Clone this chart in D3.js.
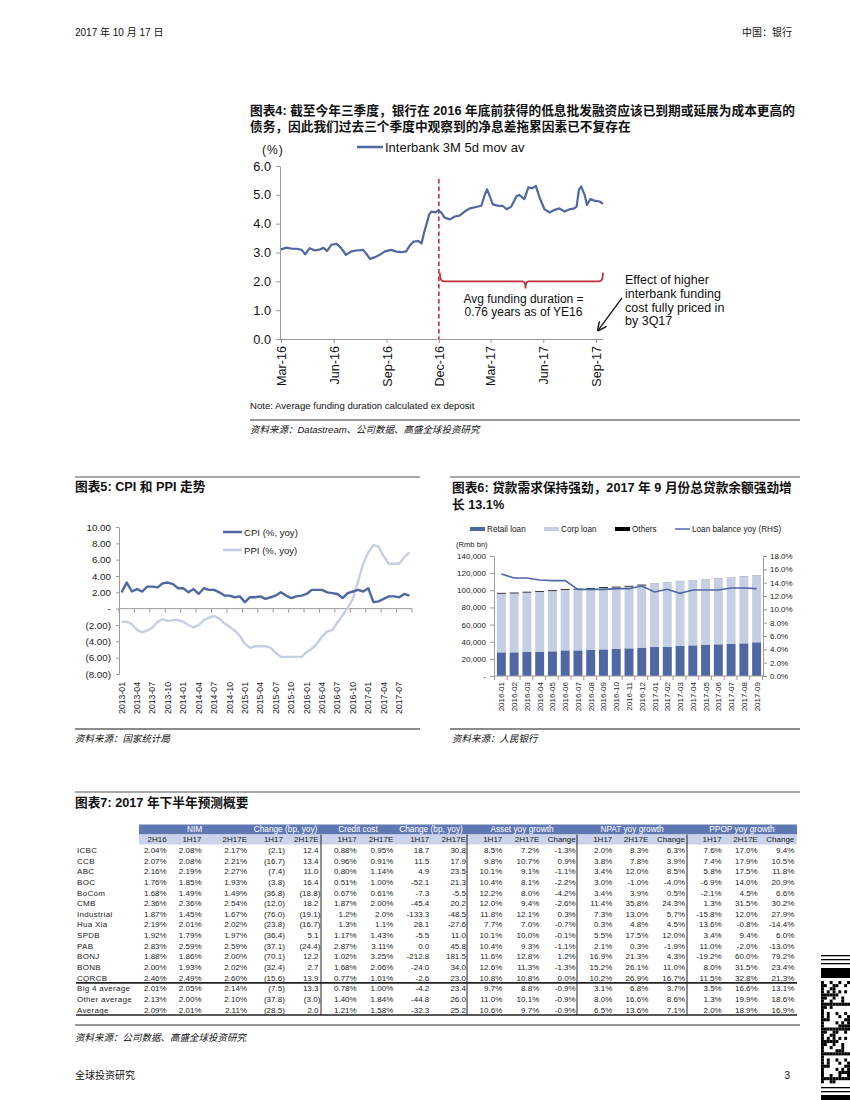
<!DOCTYPE html>
<html>
<head>
<meta charset="utf-8">
<script src="https://cdn.jsdelivr.net/npm/d3@7"></script>
<style>
    body { margin: 0; background: #fff; }
    svg text { font-family: "Liberation Sans", Arial, "Noto Sans CJK SC", sans-serif; }
</style>
</head>
<body>
<svg id="page" width="850" height="1100"></svg>
<script>
"use strict";

// ---- chart 4: interbank 3M rate (5d moving average) ----
var ibDates = ["2016-03-01", "2016-03-11", "2016-03-20", "2016-03-28", "2016-04-06", "2016-04-12", "2016-04-20", "2016-04-29",
    "2016-05-08", "2016-05-14", "2016-05-20", "2016-05-28", "2016-06-06", "2016-06-14", "2016-06-22", "2016-07-02",
    "2016-07-10", "2016-07-22", "2016-07-29", "2016-08-03", "2016-08-12", "2016-08-20", "2016-08-29", "2016-09-09",
    "2016-09-18", "2016-09-27", "2016-10-05", "2016-10-11", "2016-10-18", "2016-10-26", "2016-11-01", "2016-11-05",
    "2016-11-10", "2016-11-14", "2016-11-18", "2016-11-25", "2016-11-30", "2016-12-05", "2016-12-11", "2016-12-20",
    "2016-12-29", "2017-01-06", "2017-01-15", "2017-01-24", "2017-02-02", "2017-02-13", "2017-02-19", "2017-02-23",
    "2017-02-28", "2017-03-05", "2017-03-14", "2017-03-22", "2017-03-29", "2017-04-06", "2017-04-15", "2017-04-20",
    "2017-04-29", "2017-05-06", "2017-05-13", "2017-05-19", "2017-05-26", "2017-06-03", "2017-06-12", "2017-06-21",
    "2017-06-29", "2017-07-08", "2017-07-17", "2017-07-25", "2017-07-29", "2017-08-02", "2017-08-06", "2017-08-12",
    "2017-08-16", "2017-08-22", "2017-08-29", "2017-09-07", "2017-09-13"];
var ibValues = [3.11, 3.17, 3.13, 3.13, 3.09, 2.94, 3.15, 3.07, 3.11, 3.16, 3.05, 3.27, 3.30, 3.15, 2.92, 3.04,
    3.07, 3.09, 2.92, 2.78, 2.84, 2.92, 3.04, 3.09, 3.03, 3.01, 3.04, 3.23, 3.38, 3.40, 3.32, 3.67,
    4.02, 4.31, 4.42, 4.39, 4.46, 4.39, 4.21, 4.15, 4.25, 4.28, 4.42, 4.53, 4.57, 4.62, 5.00, 5.19,
    4.94, 4.67, 4.62, 4.62, 4.50, 4.59, 4.94, 5.00, 4.85, 5.26, 5.23, 5.31, 4.88, 4.50, 4.39, 4.48,
    4.53, 4.42, 4.50, 4.53, 4.59, 5.17, 5.29, 5.00, 4.65, 4.85, 4.80, 4.77, 4.69];
var ibTicks = ["2016-03-01", "2016-06-01", "2016-09-01", "2016-12-01", "2017-03-01", "2017-06-01", "2017-09-01"];
var ibYTicks = [0, 1, 2, 3, 4, 5, 6];
var ibNoteLines = ["Effect of higher", "interbank funding", "cost fully priced in", "by 3Q17"];

// ---- chart 5: CPI / PPI yoy, 2013-01 .. 2017-09 ----
var cpiValues = [2.0, 3.2, 2.1, 2.4, 2.1, 2.7, 2.7, 2.6, 3.1, 3.2, 3.0, 2.5,
    2.5, 2.0, 2.4, 1.8, 2.5, 2.3, 2.3, 2.0, 1.6, 1.6, 1.4, 1.5,
    0.8, 1.4, 1.4, 1.5, 1.2, 1.4, 1.6, 2.0, 1.6, 1.3, 1.5, 1.6,
    1.8, 2.3, 2.3, 2.3, 2.0, 1.9, 1.8, 1.3, 1.9, 2.1, 2.3, 2.1,
    2.5, 0.8, 0.9, 1.2, 1.5, 1.5, 1.4, 1.8, 1.6];
var ppiValues = [-1.6, -1.6, -1.9, -2.6, -2.9, -2.7, -2.3, -1.6, -1.3, -1.5, -1.4, -1.4,
    -1.6, -2.0, -2.3, -2.0, -1.4, -1.1, -0.9, -1.2, -1.8, -2.2, -2.7, -3.3,
    -4.3, -4.8, -4.6, -4.6, -4.6, -4.8, -5.4, -5.9, -5.9, -5.9, -5.9, -5.9,
    -5.3, -4.9, -4.3, -3.4, -2.8, -2.6, -1.7, -0.8, 0.1, 1.2, 3.3, 5.5,
    6.9, 7.8, 7.6, 6.4, 5.5, 5.5, 5.5, 6.3, 6.9];
var cpiMonths = d3.timeMonths(new Date(2013, 0, 1), new Date(2017, 9, 1)).map(d3.timeFormat("%Y-%m"));
var cpiYTicks = [10, 8, 6, 4, 2, 0, -2, -4, -6, -8];
var cpiSeriesNames = ["CPI (%, yoy)", "PPI (%, yoy)"];

// ---- chart 6: loans (Rmb bn) and loan balance yoy ----
var loanMonths = ["2016-01", "2016-02", "2016-03", "2016-04", "2016-05", "2016-06", "2016-07", "2016-08", "2016-09",
    "2016-10", "2016-11", "2016-12", "2017-01", "2017-02", "2017-03", "2017-04", "2017-05", "2017-06", "2017-07",
    "2017-08", "2017-09"];
var retailLoan = [27600, 27600, 28000, 28400, 28800, 29900, 29900, 30700, 31100, 31500, 32300, 33100,
    33800, 34200, 35000, 35800, 36200, 37000, 37700, 38100, 39300];
var corpLoan = [68500, 68800, 69400, 69700, 70300, 70500, 71000, 71000, 71600, 71800, 72000, 72600,
    74500, 75200, 75800, 75900, 76700, 77200, 77400, 78400, 78400];
var otherLoan = [900, 900, 900, 900, 900, 900, 900, 900, 900, 900, 900, 900,
    100, 100, 100, 100, 100, 100, 100, 100, 100];
var loanYoy = [15.3, 14.7, 14.7, 14.4, 14.3, 14.3, 13.0, 13.0, 13.0, 13.1, 13.1, 13.5,
    12.6, 13.0, 12.4, 12.9, 12.9, 12.9, 13.2, 13.2, 13.1];
var loanLeftTicks = [0, 20000, 40000, 60000, 80000, 100000, 120000, 140000];
var loanRightTicks = [0, 2, 4, 6, 8, 10, 12, 14, 16, 18];
var loanLegend = ["Retail loan", "Corp loan", "Others", "Loan balance yoy (RHS)"];

// ---- chart 7: forecast table ----
var tblGroups = ["NIM", "Change (bp, yoy)", "Credit cost", "Change (bp, yoy)", "Asset yoy growth", "NPAT yoy growth", "PPOP yoy growth"];
var tblSub = ["2H16", "1H17", "2H17E", "1H17", "2H17E", "1H17", "2H17E", "1H17", "2H17E",
    "1H17", "2H17E", "Change", "1H17", "2H17E", "Change", "1H17", "2H17E", "Change"];
var tblBanks = ["ICBC", "CCB", "ABC", "BOC", "BoCom", "CMB", "Industrial", "Hua Xia", "SPDB", "PAB", "BONJ", "BONB",
    "CQRCB", "Big 4 average", "Other average", "Average"];
var tblRows = [
    ["2.04%", "2.08%", "2.17%", "(2.1)", "12.4", "0.88%", "0.95%", "18.7", "30.8", "8.5%", "7.2%", "-1.3%", "2.0%", "8.3%", "6.3%", "7.6%", "17.0%", "9.4%"],
    ["2.07%", "2.08%", "2.21%", "(16.7)", "13.4", "0.96%", "0.91%", "11.5", "17.9", "9.8%", "10.7%", "0.9%", "3.8%", "7.8%", "3.9%", "7.4%", "17.9%", "10.5%"],
    ["2.16%", "2.19%", "2.27%", "(7.4)", "11.0", "0.80%", "1.14%", "4.9", "23.5", "10.1%", "9.1%", "-1.1%", "3.4%", "12.0%", "8.5%", "5.8%", "17.5%", "11.8%"],
    ["1.76%", "1.85%", "1.93%", "(3.8)", "16.4", "0.51%", "1.00%", "-52.1", "21.3", "10.4%", "8.1%", "-2.2%", "3.0%", "-1.0%", "-4.0%", "-6.9%", "14.0%", "20.9%"],
    ["1.68%", "1.49%", "1.49%", "(36.8)", "(18.8)", "0.67%", "0.61%", "-7.3", "-5.5", "12.2%", "8.0%", "-4.2%", "3.4%", "3.9%", "0.5%", "-2.1%", "4.5%", "6.6%"],
    ["2.36%", "2.36%", "2.54%", "(12.0)", "18.2", "1.87%", "2.00%", "-45.4", "20.2", "12.0%", "9.4%", "-2.6%", "11.4%", "35.8%", "24.3%", "1.3%", "31.5%", "30.2%"],
    ["1.87%", "1.45%", "1.67%", "(76.0)", "(19.1)", "1.2%", "2.0%", "-133.3", "-48.5", "11.8%", "12.1%", "0.3%", "7.3%", "13.0%", "5.7%", "-15.8%", "12.0%", "27.9%"],
    ["2.19%", "2.01%", "2.02%", "(23.8)", "(16.7)", "1.3%", "1.1%", "28.1", "-27.6", "7.7%", "7.0%", "-0.7%", "0.3%", "4.8%", "4.5%", "13.6%", "-0.8%", "-14.4%"],
    ["1.92%", "1.79%", "1.97%", "(36.4)", "5.1", "1.17%", "1.43%", "-5.5", "11.0", "10.1%", "10.0%", "-0.1%", "5.5%", "17.5%", "12.0%", "3.4%", "9.4%", "6.0%"],
    ["2.83%", "2.59%", "2.59%", "(37.1)", "(24.4)", "2.87%", "3.11%", "0.0", "45.8", "10.4%", "9.3%", "-1.1%", "2.1%", "0.3%", "-1.9%", "11.0%", "-2.0%", "-13.0%"],
    ["1.88%", "1.86%", "2.00%", "(70.1)", "12.2", "1.02%", "3.25%", "-212.8", "181.5", "11.6%", "12.8%", "1.2%", "16.9%", "21.3%", "4.3%", "-19.2%", "60.0%", "79.2%"],
    ["2.00%", "1.93%", "2.02%", "(32.4)", "2.7", "1.68%", "2.06%", "-24.0", "34.0", "12.6%", "11.3%", "-1.3%", "15.2%", "26.1%", "11.0%", "8.0%", "31.5%", "23.4%"],
    ["2.46%", "2.49%", "2.60%", "(15.6)", "13.9", "0.77%", "1.01%", "-2.6", "23.0", "10.8%", "10.8%", "0.0%", "10.2%", "26.9%", "16.7%", "11.5%", "32.8%", "21.3%"],
    ["2.01%", "2.05%", "2.14%", "(7.5)", "13.3", "0.78%", "1.00%", "-4.2", "23.4", "9.7%", "8.8%", "-0.9%", "3.1%", "6.8%", "3.7%", "3.5%", "16.6%", "13.1%"],
    ["2.13%", "2.00%", "2.10%", "(37.8)", "(3.0)", "1.40%", "1.84%", "-44.8", "26.0", "11.0%", "10.1%", "-0.9%", "8.0%", "16.6%", "8.6%", "1.3%", "19.9%", "18.6%"],
    ["2.09%", "2.01%", "2.11%", "(28.5)", "2.0", "1.21%", "1.58%", "-32.3", "25.2", "10.6%", "9.7%", "-0.9%", "6.5%", "13.6%", "7.1%", "2.0%", "18.9%", "16.9%"]
];

var BLUE = "#4f67a3",
    LIGHT = "#c6cee3",
    AXIS = "#9a9a9a",
    RED = "#c0303a";

var svg = d3.select("#page");
svg.append("rect").attr("width", 850).attr("height", 1100).attr("fill", "#fff");

function text(g, x, y, s, size, opts) {
    opts = opts || {};
    return g.append("text")
        .attr("x", x)
        .attr("y", y)
        .attr("font-size", size)
        .attr("font-weight", opts.weight || null)
        .attr("font-style", opts.style || null)
        .attr("text-anchor", opts.anchor || "start")
        .attr("fill", opts.fill || "#111")
        .text(s);
}

function rule(x1, x2, y, color, w) {
    svg.append("line").attr("x1", x1).attr("x2", x2).attr("y1", y).attr("y2", y)
        .attr("stroke", color).attr("stroke-width", w);
}

function styleAxis(g, size) {
    g.attr("font-size", size);
    g.select(".domain").attr("stroke", AXIS);
    g.selectAll(".tick line").attr("stroke", AXIS);
    g.selectAll(".tick text").attr("fill", "#111");
}

// page header / footer
text(svg, 75, 36, "2017 年 10 月 17 日", 10);
text(svg, 792, 36, "中国：银行", 10, { anchor: "end" });
text(svg, 75, 1079, "全球投资研究", 10);
text(svg, 790, 1079, "3", 10, { anchor: "end" });

// ================= chart 4 =================
(function () {
    var parse = d3.timeParse("%Y-%m-%d"),
        data = ibDates.map(function (d, i) { return { date: parse(d), v: ibValues[i] }; }),
        x = d3.scaleTime().domain([parse("2016-03-01"), parse("2017-09-13")]).range([281, 603]),
        y = d3.scaleLinear().domain([0, 6]).range([339, 166]),
        g = svg.append("g"),
        ax, dec, mid, end, brace;

    text(g, 250, 115, "图表4: 截至今年三季度，银行在 2016 年底前获得的低息批发融资应该已到期或延展为成本更高的", 12.7, { weight: "bold" });
    text(g, 250, 131, "债务，因此我们过去三个季度中观察到的净息差拖累因素已不复存在", 12.7, { weight: "bold" });

    text(g, 262, 154, "(%)", 12).attr("letter-spacing", 1);
    g.append("line").attr("x1", 357).attr("x2", 383).attr("y1", 147).attr("y2", 147)
        .attr("stroke", BLUE).attr("stroke-width", 2.5);
    text(g, 385, 151.5, "Interbank 3M 5d mov av", 13);

    ax = g.append("g").attr("transform", "translate(280,0)")
        .call(d3.axisLeft(y).tickValues(ibYTicks).tickFormat(d3.format(".1f")).tickSize(4).tickSizeOuter(0).tickPadding(5));
    styleAxis(ax, 12.8);

    ax = g.append("g").attr("transform", "translate(0," + y(0) + ")")
        .call(d3.axisBottom(x).tickValues(ibTicks.map(parse)).tickFormat(d3.timeFormat("%b-%y")).tickSize(4).tickSizeOuter(0));
    styleAxis(ax, 12.6);
    ax.select(".domain").attr("d", "M280,0.5H603");
    ax.selectAll(".tick text")
        .attr("transform", "rotate(-90)")
        .attr("x", -7).attr("y", 0).attr("dy", "0.35em")
        .style("text-anchor", "end");

    dec = x(parse("2016-12-01"));
    g.append("line").attr("x1", dec).attr("x2", dec).attr("y1", y(5.55)).attr("y2", y(0))
        .attr("stroke", RED).attr("stroke-width", 1.6).attr("stroke-dasharray", "4.5,3");

    g.append("path").datum(data)
        .attr("fill", "none").attr("stroke", BLUE).attr("stroke-width", 2.2)
        .attr("stroke-linejoin", "round")
        .attr("d", d3.line().x(function (d) { return x(d.date); }).y(function (d) { return y(d.v); }));

    // curly bracket for the average funding duration
    mid = x(parse("2017-05-01"));
    end = x.range()[1];
    brace = d3.path();
    brace.moveTo(dec + 1, y(2.3));
    brace.quadraticCurveTo(dec + 1, y(2.0), dec + 5, y(2.0));
    brace.lineTo(mid - 3, y(2.0));
    brace.quadraticCurveTo(mid, y(2.0), mid, y(1.75));
    brace.quadraticCurveTo(mid, y(2.0), mid + 3, y(2.0));
    brace.lineTo(end - 4, y(2.0));
    brace.quadraticCurveTo(end, y(2.0), end, y(2.3));
    g.append("path").attr("d", brace.toString()).attr("fill", "none")
        .attr("stroke", RED).attr("stroke-width", 1.8);

    text(g, mid - 2, y(1.25), "Avg funding duration =", 12, { anchor: "middle" });
    text(g, mid - 2, y(0.8), "0.76 years as of YE16", 12, { anchor: "middle" });

    ibNoteLines.forEach(function (s, i) {
        text(g, 625, y(1.9) + i * 13.7, s, 12.5);
    });

    g.append("defs").append("marker").attr("id", "arr")
        .attr("viewBox", "0 0 10 10").attr("refX", 9).attr("refY", 5)
        .attr("markerWidth", 7).attr("markerHeight", 7).attr("orient", "auto")
        .append("path").attr("d", "M0,0 L10,5 L0,10").attr("fill", "none").attr("stroke", "#111").attr("stroke-width", 1.6);
    g.append("line").attr("x1", end + 19).attr("y1", y(1.43))
        .attr("x2", x(parse("2017-09-01")) + 2).attr("y2", y(0.3))
        .attr("stroke", "#111").attr("stroke-width", 1.3).attr("marker-end", "url(#arr)");

    text(g, 250, 409, "Note: Average funding duration calculated ex deposit", 9.6);
    rule(250, 800, 420, "#777", 1.3);
    text(g, 250, 433, "资料来源：Datastream、公司数据、高盛全球投资研究", 9.5, { style: "italic" });
}());

// ================= chart 5 =================
(function () {
    var x = d3.scaleBand().domain(cpiMonths).range([119, 412]).padding(0),
        y = d3.scaleLinear().domain([-8, 10]).range([674, 527]),
        g = svg.append("g"),
        fmt = d3.format(".2f"),
        ax, line, series;

    rule(75, 420, 477, "#555", 1.2);
    text(g, 75, 491, "图表5: CPI 和 PPI 走势", 12.7, { weight: "bold" });

    ax = g.append("g").attr("transform", "translate(119,0)")
        .call(d3.axisLeft(y).tickValues(cpiYTicks).tickSize(3).tickSizeOuter(0)
            .tickFormat(function (v) {
                if (v === 0) { return "-"; }
                return v < 0 ? "(" + fmt(-v) + ")" : fmt(v);
            }));
    styleAxis(ax, 9.8);
    ax.selectAll(".tick text").attr("x", -8).attr("fill", "#222");

    // zero axis with tick marks every quarter
    g.append("line").attr("x1", 119).attr("x2", 412).attr("y1", y(0)).attr("y2", y(0))
        .attr("stroke", AXIS);
    g.selectAll("line.qt").data(d3.range(0, cpiMonths.length + 1, 3)).enter().append("line")
        .attr("class", "qt")
        .attr("x1", function (k) { return 119 + k * x.step(); })
        .attr("x2", function (k) { return 119 + k * x.step(); })
        .attr("y1", y(0)).attr("y2", y(0) + 4)
        .attr("stroke", AXIS);
    g.selectAll("text.ml").data(cpiMonths.filter(function (m, i) { return i % 3 === 0; })).enter().append("text")
        .attr("class", "ml")
        .attr("transform", function (m) {
            return "translate(" + (x(m) + x.bandwidth() / 2 + 3) + ",682) rotate(-90)";
        })
        .attr("text-anchor", "end")
        .attr("font-size", 8.7)
        .attr("fill", "#222")
        .text(function (m) { return m; });

    line = d3.line()
        .x(function (d, i) { return x(cpiMonths[i]) + x.bandwidth() / 2; })
        .y(function (d) { return y(d); });
    series = [{ v: ppiValues, c: LIGHT }, { v: cpiValues, c: BLUE }];
    series.forEach(function (s) {
        g.append("path").datum(s.v).attr("fill", "none").attr("stroke", s.c)
            .attr("stroke-width", 2.4).attr("stroke-linejoin", "round").attr("d", line);
    });

    [BLUE, LIGHT].forEach(function (c, i) {
        g.append("line").attr("x1", 223).attr("x2", 242).attr("y1", 532 + i * 18).attr("y2", 532 + i * 18)
            .attr("stroke", c).attr("stroke-width", 2.5);
        text(g, 244, 535.5 + i * 18, cpiSeriesNames[i], 9.6, { fill: "#222" });
    });

    rule(75, 420, 729, "#666", 1.3);
    text(g, 75, 742, "资料来源：国家统计局", 9.5, { style: "italic" });
}());

// ================= chart 6 =================
(function () {
    var x = d3.scaleBand().domain(loanMonths).range([495, 763]).paddingInner(0.3).paddingOuter(0.15),
        yl = d3.scaleLinear().domain([0, 140000]).range([676, 556]),
        yr = d3.scaleLinear().domain([0, 18]).range([676, 556]),
        g = svg.append("g"),
        stack = loanMonths.map(function (m, i) {
            return { m: m, parts: [retailLoan[i], corpLoan[i], otherLoan[i]] };
        }),
        colors = [BLUE, LIGHT, "#000"],
        ax, legX = [470, 544, 615, 675];

    rule(450, 800, 477, "#555", 1.2);
    text(g, 452, 492, "图表6: 贷款需求保持强劲，2017 年 9 月份总贷款余额强劲增", 12.7, { weight: "bold" });
    text(g, 452, 509, "长 13.1%", 12.7, { weight: "bold" });

    loanLegend.forEach(function (s, i) {
        if (i < 3) {
            g.append("rect").attr("x", legX[i]).attr("y", 527).attr("width", 15).attr("height", 4).attr("fill", colors[i]);
        } else {
            g.append("line").attr("x1", legX[i]).attr("x2", legX[i] + 15).attr("y1", 529).attr("y2", 529)
                .attr("stroke", BLUE).attr("stroke-width", 1.5);
        }
        text(g, legX[i] + 17, 532, s, 8.2, { fill: "#222" });
    });
    text(g, 456, 547, "(Rmb bn)", 7.6, { fill: "#222" });

    stack.forEach(function (d) {
        var base = 0;
        d.parts.forEach(function (v, j) {
            g.append("rect")
                .attr("x", x(d.m))
                .attr("width", x.bandwidth())
                .attr("y", yl(base + v))
                .attr("height", yl(base) - yl(base + v))
                .attr("fill", colors[j]);
            base += v;
        });
    });

    ax = g.append("g").attr("transform", "translate(494,0)")
        .call(d3.axisLeft(yl).tickValues(loanLeftTicks).tickSize(4).tickSizeOuter(0)
            .tickFormat(function (v) { return v === 0 ? "-" : d3.format(",")(v); }));
    styleAxis(ax, 8);
    ax.selectAll(".tick text").attr("x", -8).attr("fill", "#222");

    ax = g.append("g").attr("transform", "translate(763,0)")
        .call(d3.axisRight(yr).tickValues(loanRightTicks).tickSize(4).tickSizeOuter(0)
            .tickFormat(function (v) { return d3.format(".1f")(v) + "%"; }));
    styleAxis(ax, 8);
    ax.selectAll(".tick text").attr("fill", "#222");

    g.append("line").attr("x1", 494).attr("x2", 763).attr("y1", 676).attr("y2", 676).attr("stroke", AXIS);
    g.selectAll("line.bt").data(d3.range(loanMonths.length + 1)).enter().append("line")
        .attr("x1", function (k) { return x.range()[0] + k * x.step() - 0.5; })
        .attr("x2", function (k) { return x.range()[0] + k * x.step() - 0.5; })
        .attr("y1", 676).attr("y2", 680).attr("stroke", AXIS);
    g.selectAll("text.ml").data(loanMonths).enter().append("text")
        .attr("transform", function (m) {
            return "translate(" + (x(m) + x.bandwidth() / 2 + 3) + ",682) rotate(-90)";
        })
        .attr("text-anchor", "end")
        .attr("font-size", 8)
        .attr("fill", "#222")
        .text(function (m) { return m; });

    g.append("path").datum(loanYoy).attr("fill", "none").attr("stroke", BLUE).attr("stroke-width", 1.6)
        .attr("d", d3.line()
            .x(function (d, i) { return x(loanMonths[i]) + x.bandwidth() / 2; })
            .y(function (d) { return yr(d); }));

    rule(450, 800, 729, "#666", 1.3);
    text(g, 452, 742, "资料来源：人民银行", 9.5, { style: "italic" });
}());

// ================= chart 7: table =================
(function () {
    var g = svg.append("g"),
        colRight = [166.7, 201.5, 247, 283, 318.5, 356.7, 393.3, 429.3, 466, 502.3, 539.3, 575.7,
            612.3, 648.3, 685, 721.7, 757.7, 794.3],
        groupEdge = [139, 250, 321, 395, 467, 577, 687, 797],
        sepEdge = [321, 467, 577, 687],
        rowY = d3.scalePoint().domain(tblBanks).range([850, 1009.5]),
        top1 = 824.5, top2 = 834.5, bottom = 1015, size = 8;

    rule(75, 800, 792, "#555", 1.2);
    text(g, 75, 807, "图表7: 2017 年下半年预测概要", 12.7, { weight: "bold" });

    g.append("rect").attr("x", groupEdge[0]).attr("y", top1).attr("width", groupEdge[7] - groupEdge[0])
        .attr("height", top2 - top1).attr("fill", "#5f78b2");
    g.append("rect").attr("x", groupEdge[0]).attr("y", top2).attr("width", groupEdge[7] - groupEdge[0])
        .attr("height", 10).attr("fill", "#cbd3ea");

    tblGroups.forEach(function (s, i) {
        text(g, (groupEdge[i] + groupEdge[i + 1]) / 2, top1 + 7.8, s, 8.3, { anchor: "middle", fill: "#fff" });
    });
    tblSub.forEach(function (s, j) {
        text(g, colRight[j], top2 + 7.8, s, size, { anchor: "end", fill: "#222" });
    });

    tblBanks.forEach(function (b, i) {
        var yy = rowY(b) + 3;
        text(g, 77, yy, b, size, { fill: "#222" }).attr("letter-spacing", 0.3);
        tblRows[i].forEach(function (v, j) {
            var xx = colRight[j] + (v.charAt(0) === "(" ? 1.8 : 0);
            text(g, xx, yy, v, size, { anchor: "end", fill: "#222" });
        });
    });

    sepEdge.forEach(function (xx) {
        g.append("line").attr("x1", xx).attr("x2", xx).attr("y1", top2).attr("y2", bottom)
            .attr("stroke", "#222").attr("stroke-width", 1);
    });
    rule(76, 797, (rowY("CQRCB") + rowY("Big 4 average")) / 2, "#222", 1.6);
    rule(76, 797, bottom, "#222", 1.6);

    rule(75, 800, 1025, "#777", 1.3);
    text(g, 75, 1041, "资料来源：公司数据、高盛全球投资研究", 9.5, { style: "italic" });
}());

// ---- decorative 2D barcode at the page edge ----
(function () {
    var g = svg.append("g"),
        bars = [[955, 1.3], [959, 1.3], [963, 1.3], [968, 10], [1087, 1.3], [1091, 1.3], [1095, 5]];
    bars.forEach(function (b) {
        g.append("rect").attr("x", 821).attr("y", b[0]).attr("width", 29).attr("height", b[1]).attr("fill", "#000");
    });
    d3.range(33).forEach(function (r) {
        d3.range(10).forEach(function (c) {
            var on = ((r * 7 + c * 13 + (r * c) % 5) % 3 === 0) || c === 0 || (r % 8 === 7);
            if (on) {
                g.append("rect").attr("x", 821 + c * 2.9).attr("y", 981 + r * 3.1)
                    .attr("width", 2.9).attr("height", 3.1).attr("fill", "#000");
            }
        });
    });
}());
</script>
</body>
</html>
